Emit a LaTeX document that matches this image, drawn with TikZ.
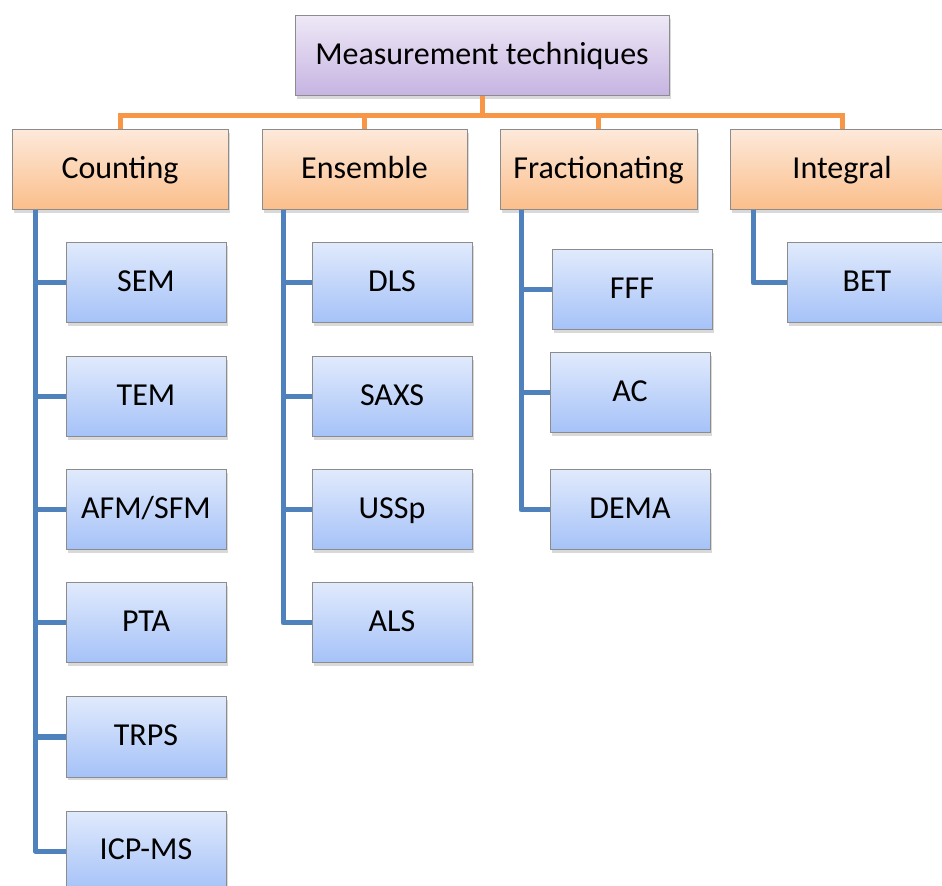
\documentclass[tikz,border=0pt]{standalone}
\usepackage{fontspec}
\setmainfont{Carlito}
\usetikzlibrary{shadows}

\definecolor{rootTop}{HTML}{EEE8F6}
\definecolor{rootBot}{HTML}{C6B3E2}
\definecolor{catTop}{HTML}{FDE9DA}
\definecolor{catBot}{HTML}{FBBE8A}
\definecolor{leafTop}{HTML}{E0EAFC}
\definecolor{leafBot}{HTML}{A5C2F8}
\definecolor{busLine}{HTML}{F79646}
\definecolor{treeLine}{HTML}{4F81BD}

\tikzset{
  box/.style={draw=black!45, line width=0.5pt, minimum height=40pt,
    inner sep=0pt, font=\fontsize{16}{19}\selectfont,
    text height=0.88em, text depth=0pt,
    drop shadow={opacity=0.3, shadow xshift=1pt, shadow yshift=-1.5pt}},
  rootbox/.style={box, top color=rootTop, bottom color=rootBot},
  catbox/.style={box, top color=catTop, bottom color=catBot},
  leafbox/.style={box, top color=leafTop, bottom color=leafBot, minimum width=80pt},
  bus/.style={draw=busLine, line width=2.5pt},
  branch/.style={draw=treeLine, line width=2.5pt, line join=round}
}

\begin{document}
\begin{tikzpicture}[x=0.5pt,y=-0.5pt]
\useasboundingbox (0,0) rectangle (942,886);
\clip (0,0) rectangle (942,886);

\node[rootbox, minimum width=187pt] (root) at (482,56) {Measurement techniques};

\node[catbox, minimum width=108pt] (counting) at (120,170) {Counting};
\node[catbox, minimum width=102.5pt] (ensemble) at (364.5,170) {Ensemble};
\node[catbox, minimum width=98.5pt] (fraction) at (598.5,170) {Fractionating};
\node[catbox, minimum width=112pt] (integral) at (842,170) {Integral};

% bus to the four groups
\coordinate (hub) at (482,116);
\draw[bus] (root.south) -- (hub);
\draw[bus] (counting.north) |- (hub) -| (integral.north);
\draw[bus] (ensemble.north) -- (ensemble.north |- hub);
\draw[bus] (fraction.north) -- (fraction.north |- hub);

% counting
\node[leafbox] (sem) at (146,283) {SEM};
\node[leafbox] (tem) at (146,397) {TEM};
\node[leafbox] (afm) at (146,510) {AFM/SFM};
\node[leafbox] (pta) at (146,623) {PTA};
\node[leafbox] (trps) at (146,737) {TRPS};
\node[leafbox] (icp) at (146,851) {ICP-MS};

% ensemble
\node[leafbox] (dls) at (392,283) {DLS};
\node[leafbox] (saxs) at (392,397) {SAXS};
\node[leafbox] (ussp) at (392,510) {USSp};
\node[leafbox] (als) at (392,623) {ALS};

% fractionating
\node[leafbox] (fff) at (632,290) {FFF};
\node[leafbox] (ac) at (630,393) {AC};
\node[leafbox] (dema) at (630,510) {DEMA};

% integral
\node[leafbox] (bet) at (867,283) {BET};

\coordinate (ctrunk) at (35,210);
\coordinate (etrunk) at (283,210);
\coordinate (ftrunk) at (521,210);
\coordinate (itrunk) at (753,210);

\foreach \leaf in {sem,tem,afm,pta,trps,icp}
  \draw[branch] (ctrunk) |- (\leaf.west);
\foreach \leaf in {dls,saxs,ussp,als}
  \draw[branch] (etrunk) |- (\leaf.west);
\foreach \leaf in {fff,ac,dema}
  \draw[branch] (ftrunk) |- (\leaf.west);
\draw[branch] (itrunk) |- (bet.west);

\end{tikzpicture}
\end{document}
